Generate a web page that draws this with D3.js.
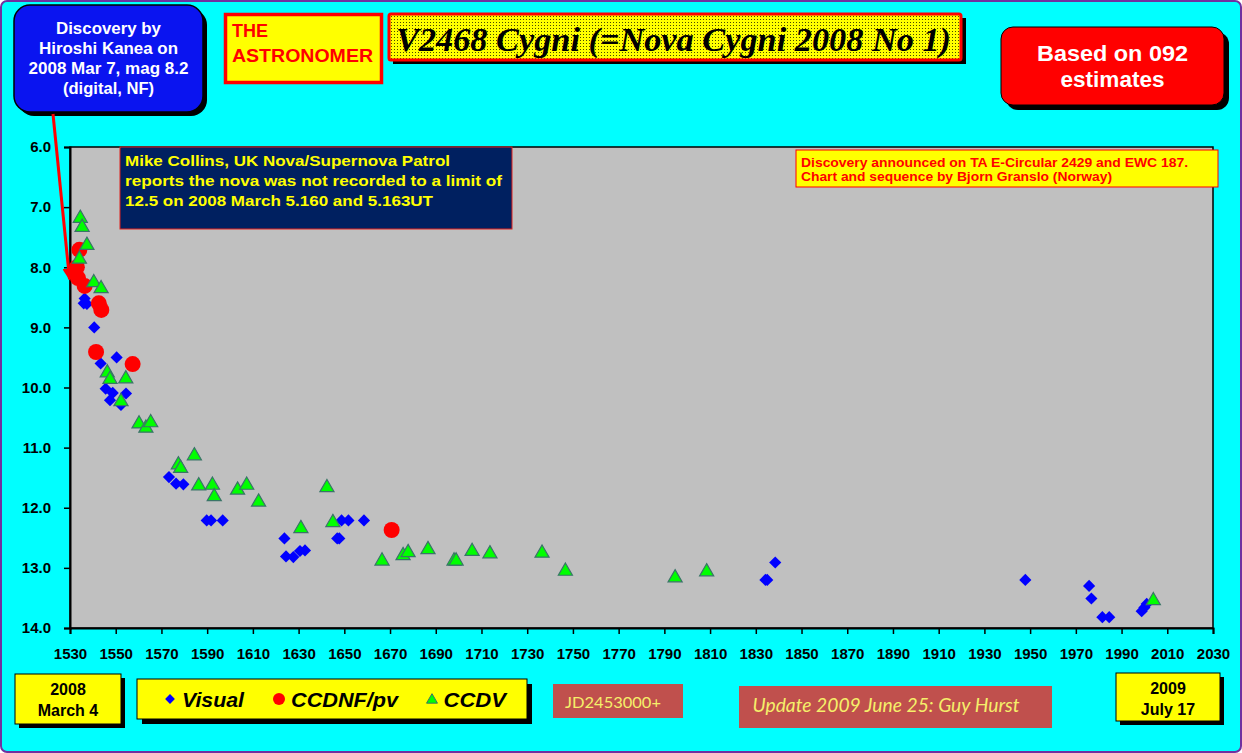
<!DOCTYPE html>
<html>
<head>
<meta charset="utf-8">
<script src="https://cdn.jsdelivr.net/npm/d3@7"></script>
<style>
  html, body { margin: 0; padding: 0; background: #ffffff; overflow: hidden; }
  svg { display: block; }
</style>
</head>
<body>
<svg id="chart" width="1242" height="753"></svg>
<script>
// Light curve of V2468 Cygni: days after JD 2453000 and magnitude, per method
const visualJD  = [1536.4, 1536.0, 1537.4, 1540.6, 1543.4, 1550.4, 1545.6, 1548.7, 1554.5, 1547.5,
                   1552.3, 1573.3, 1576.4, 1579.6, 1589.8, 1591.7, 1596.8, 1623.8, 1624.5, 1627.7,
                   1630.6, 1632.8, 1646.9, 1647.8, 1648.8, 1651.8, 1658.6, 1834.2, 1835.0, 1838.5,
                   1947.9, 1975.8, 1976.8, 1981.6, 1984.6, 1998.8, 2000.0, 2001.0];
const visualMag = [8.52, 8.60, 8.61, 9.00, 9.60, 9.50, 10.02, 10.09, 10.10, 10.21,
                   10.29, 11.49, 11.60, 11.61, 12.21, 12.21, 12.21, 12.51, 12.81, 12.82,
                   12.72, 12.71, 12.51, 12.51, 12.21, 12.21, 12.21, 13.20, 13.20, 12.91,
                   13.20, 13.30, 13.51, 13.82, 13.82, 13.72, 13.66, 13.60];

const ccdnfJD  = [1534.1, 1533.0, 1533.5, 1536.4, 1542.6, 1543.7, 1541.4, 1557.4, 1670.7];
const ccdnfMag = [7.71, 8.00, 8.18, 8.31, 8.60, 8.71, 9.41, 9.61, 12.37];

const ccdvJD  = [1534.5, 1535.3, 1537.4, 1534.1, 1540.4, 1543.6, 1546.3, 1547.5, 1554.4, 1552.3,
                 1560.2, 1563.2, 1565.3, 1577.4, 1578.4, 1584.4, 1586.3, 1592.3, 1593.1, 1603.3,
                 1607.3, 1612.5, 1631.0, 1642.4, 1645.0, 1666.5, 1675.7, 1677.9, 1686.6, 1698.0,
                 1698.9, 1705.9, 1713.7, 1736.5, 1746.7, 1794.7, 1808.5, 2003.9];
const ccdvMag = [7.16, 7.31, 7.61, 7.84, 8.23, 8.33, 9.73, 9.84, 9.83, 10.21,
                 10.58, 10.65, 10.56, 11.26, 11.32, 11.11, 11.61, 11.60, 11.79, 11.68,
                 11.60, 11.88, 12.32, 11.64, 12.22, 12.86, 12.77, 12.72, 12.67, 12.86,
                 12.86, 12.70, 12.74, 12.73, 13.03, 13.14, 13.04, 13.52];

const xTickValues = d3.range(1530, 2031, 20);
const yTickValues = d3.range(6, 14.001, 1);

const legendLabels = ["Visual", "CCDNF/pv", "CCDV"];

const svg = d3.select("#chart");
const W = 1242, H = 753;
const plot = { left: 70, top: 147, right: 1213, bottom: 628 };

const x = d3.scaleLinear().domain([1530, 2030]).range([plot.left, plot.right]);
const y = d3.scaleLinear().domain([6, 14]).range([plot.top, plot.bottom]);

const ARIAL = "'Liberation Sans', Arial, sans-serif";
const TIMES = "'Liberation Serif', 'Times New Roman', serif";
const CAL = "Lato, 'Open Sans', sans-serif";

// stipple pattern for the title plate
const defs = svg.append("defs");
const pat = defs.append("pattern").attr("id", "dots")
  .attr("width", 3).attr("height", 3).attr("patternUnits", "userSpaceOnUse");
pat.append("rect").attr("width", 3).attr("height", 3).attr("fill", "#ffff00");
pat.append("rect").attr("x", 1).attr("y", 1).attr("width", 1).attr("height", 1).attr("fill", "#4a4a00");

defs.append("marker").attr("id", "arrowhead")
  .attr("viewBox", "0 0 10 10").attr("refX", 9).attr("refY", 5)
  .attr("markerWidth", 4).attr("markerHeight", 4).attr("orient", "auto")
  .append("path").attr("d", "M0,0L10,5L0,10Z").attr("fill", "#ff0000");

// page background
svg.append("rect").attr("x", 1).attr("y", 1).attr("width", W - 2).attr("height", H - 2)
  .attr("rx", 6).attr("fill", "#00ffff").attr("stroke", "#7030a0").attr("stroke-width", 2);

// plot area
svg.append("rect").attr("x", plot.left).attr("y", plot.top)
  .attr("width", plot.right - plot.left).attr("height", plot.bottom - plot.top)
  .attr("fill", "#c0c0c0").attr("stroke", "#000").attr("stroke-width", 1.5);

// axes
const xAxis = d3.axisBottom(x).tickValues(xTickValues).tickSize(6).tickPadding(14).tickFormat(d3.format("d"));
const yAxis = d3.axisLeft(y).tickValues(yTickValues).tickSize(6).tickPadding(13).tickFormat(d3.format(".1f"));

const gx = svg.append("g").attr("transform", `translate(0,${plot.bottom})`).call(xAxis);
const gy = svg.append("g").attr("transform", `translate(${plot.left},0)`).call(yAxis);
[gx, gy].forEach(g => {
  g.select(".domain").attr("stroke", "#000").attr("stroke-width", 2);
  g.selectAll(".tick line").attr("stroke", "#000").attr("stroke-width", 1.5);
  g.selectAll(".tick text").attr("fill", "#000").attr("font-family", ARIAL)
    .attr("font-weight", "bold").attr("font-size", 15);
});

// observation markers: Visual, then CCDNF/pv, then CCDV on top
const visual = visualJD.map((d, i) => ({ jd: d, mag: visualMag[i] }));
const ccdnf = ccdnfJD.map((d, i) => ({ jd: d, mag: ccdnfMag[i] }));
const ccdv = ccdvJD.map((d, i) => ({ jd: d, mag: ccdvMag[i] }));

const diamond = d3.symbol().type(d3.symbolSquare).size(74)();
const triangle = d3.symbol().type(d3.symbolTriangle).size(86)();

svg.append("g").selectAll("path").data(visual).join("path")
  .attr("d", diamond)
  .attr("transform", d => `translate(${x(d.jd)},${y(d.mag)}) rotate(45)`)
  .attr("fill", "#0000ff");

svg.append("g").selectAll("circle").data(ccdnf).join("circle")
  .attr("cx", d => x(d.jd)).attr("cy", d => y(d.mag)).attr("r", 8)
  .attr("fill", "#ff0000");

svg.append("g").selectAll("path").data(ccdv).join("path")
  .attr("d", triangle)
  .attr("transform", d => `translate(${x(d.jd)},${y(d.mag) + 1.5})`)
  .attr("fill", "#00ff00").attr("stroke", "#3a7468").attr("stroke-width", 1.2);

// helper: multi-line text block
function lines(g, arr, opts) {
  arr.forEach((t, i) => {
    const el = g.append("text")
      .attr("x", opts.x).attr("y", opts.y + i * opts.dy)
      .attr("text-anchor", opts.anchor || "start")
      .attr("font-family", opts.family || ARIAL)
      .attr("font-weight", opts.weight || "bold")
      .attr("font-style", opts.style || "normal")
      .attr("font-size", opts.size)
      .attr("fill", opts.fill)
      .text(t);
    if (opts.lengths && opts.lengths[i]) {
      el.attr("textLength", opts.lengths[i]).attr("lengthAdjust", "spacingAndGlyphs");
    }
  });
}

// note box inside the plot: pre-discovery limit
const note1 = svg.append("g");
note1.append("rect").attr("x", 120).attr("y", 147).attr("width", 392).attr("height", 82)
  .attr("fill", "#002060").attr("stroke", "#e0201c").attr("stroke-width", 1);
lines(note1, ["Mike Collins, UK Nova/Supernova Patrol",
              "reports the nova was not recorded to a limit of",
              "12.5 on 2008 March 5.160 and 5.163UT"],
  { x: 125, y: 166, dy: 19.8, size: 15, fill: "#ffff00", lengths: [325, 377, 308] });

// note box: announcement and sequence credit
const note2 = svg.append("g");
note2.append("rect").attr("x", 796).attr("y", 150).attr("width", 422).attr("height", 37)
  .attr("fill", "#ffff00").attr("stroke", "#ff0000").attr("stroke-width", 1);
lines(note2, ["Discovery announced on TA E-Circular 2429 and EWC 187.",
              "Chart and sequence by Bjorn Granslo (Norway)"],
  { x: 801, y: 166.5, dy: 14.5, size: 13, fill: "#ff0000", lengths: [387, 311] });

// discovery callout with arrow
const disc = svg.append("g");
disc.append("rect").attr("x", 18).attr("y", 9).attr("width", 189).attr("height", 107)
  .attr("rx", 16).attr("fill", "#000");
disc.append("rect").attr("x", 14).attr("y", 5).attr("width", 189).attr("height", 107)
  .attr("rx", 16).attr("fill", "#0a14f0").attr("stroke", "#000").attr("stroke-width", 1.5);
lines(disc, ["Discovery by", "Hiroshi Kanea on", "2008 Mar 7, mag 8.2", "(digital, NF)"],
  { x: 108.5, y: 34, dy: 20, size: 16, fill: "#ffffff", anchor: "middle",
    lengths: [105, 139, 160, 91] });
svg.append("line").attr("x1", 53).attr("y1", 114).attr("x2", x(1529.8)).attr("y2", y(8.2))
  .attr("stroke", "#ff0000").attr("stroke-width", 3).attr("marker-end", "url(#arrowhead)");

// publication tag
const tag = svg.append("g");
tag.append("rect").attr("x", 225.5).attr("y", 14.5).attr("width", 156).attr("height", 68)
  .attr("fill", "#ffff00").attr("stroke", "#ff0000").attr("stroke-width", 3.5);
lines(tag, ["THE", "ASTRONOMER"],
  { x: 232, y: 37, dy: 25, size: 18, fill: "#ff0000", lengths: [null, 141] });

// title plate
const title = svg.append("g");
title.append("rect").attr("x", 393).attr("y", 18).attr("width", 573).attr("height", 46).attr("fill", "#000");
title.append("rect").attr("x", 389).attr("y", 14).attr("width", 572).attr("height", 46)
  .attr("rx", 2).attr("fill", "url(#dots)").attr("stroke", "#ff0000").attr("stroke-width", 3);
title.append("text").attr("x", 396).attr("y", 51)
  .attr("font-family", TIMES).attr("font-weight", "bold").attr("font-style", "italic")
  .attr("font-size", 34).attr("fill", "#000")
  .attr("textLength", 555).attr("lengthAdjust", "spacingAndGlyphs")
  .text("V2468 Cygni (=Nova Cygni 2008 No 1)");

// estimate count badge
const badge = svg.append("g");
badge.append("rect").attr("x", 1006).attr("y", 32).attr("width", 223).attr("height", 78)
  .attr("rx", 12).attr("fill", "#000");
badge.append("rect").attr("x", 1001).attr("y", 27).attr("width", 223).attr("height", 78)
  .attr("rx", 12).attr("fill", "#ff0000").attr("stroke", "#000").attr("stroke-width", 1);
lines(badge, ["Based on 092", "estimates"],
  { x: 1112.5, y: 61, dy: 26, size: 22, fill: "#ffffff", anchor: "middle", lengths: [151, 104] });

// start / end date boxes
function dateBox(bx, by, bw, bh, txt) {
  const g = svg.append("g");
  g.append("rect").attr("x", bx + 4).attr("y", by + 4).attr("width", bw).attr("height", bh).attr("fill", "#000");
  g.append("rect").attr("x", bx).attr("y", by).attr("width", bw).attr("height", bh)
    .attr("fill", "#ffff00").attr("stroke", "#000").attr("stroke-width", 1);
  lines(g, txt, { x: bx + bw / 2, y: by + 21, dy: 20.5, size: 16, fill: "#000", anchor: "middle" });
}
dateBox(15, 674, 106, 50, ["2008", "March 4"]);
dateBox(1116, 673, 104, 48, ["2009", "July 17"]);

// legend
const leg = svg.append("g");
leg.append("rect").attr("x", 142).attr("y", 684).attr("width", 390).attr("height", 40).attr("fill", "#000");
leg.append("rect").attr("x", 137).attr("y", 679).attr("width", 390).attr("height", 40)
  .attr("fill", "#ffff00").attr("stroke", "#000").attr("stroke-width", 1);
const legY = 699;
leg.append("path").attr("d", d3.symbol().type(d3.symbolSquare).size(48)())
  .attr("transform", `translate(170,${legY}) rotate(45)`).attr("fill", "#0000ff");
leg.append("circle").attr("cx", 279).attr("cy", legY).attr("r", 6).attr("fill", "#ff0000");
leg.append("path").attr("d", d3.symbol().type(d3.symbolTriangle).size(52)())
  .attr("transform", `translate(432,${legY + 1})`)
  .attr("fill", "#00ff00").attr("stroke", "#3a7468").attr("stroke-width", 1);
const legX = [182, 291, 443.5];
const legW = [62, 107, 62.5];
legendLabels.forEach((t, i) => {
  leg.append("text").attr("x", legX[i]).attr("y", 707)
    .attr("font-family", ARIAL).attr("font-weight", "bold").attr("font-style", "italic")
    .attr("font-size", 21).attr("fill", "#000")
    .attr("textLength", legW[i]).attr("lengthAdjust", "spacingAndGlyphs").text(t);
});

// JD offset label and update note
const jd = svg.append("g");
jd.append("rect").attr("x", 553).attr("y", 684).attr("width", 130).attr("height", 34).attr("fill", "#c0504d");
jd.append("text").attr("x", 565).attr("y", 707.5).attr("font-family", CAL).attr("font-size", 16)
  .attr("fill", "#f5ef6a").attr("textLength", 96).attr("lengthAdjust", "spacingAndGlyphs").text("JD2453000+");

const upd = svg.append("g");
upd.append("rect").attr("x", 739).attr("y", 686).attr("width", 313).attr("height", 42).attr("fill", "#c0504d");
upd.append("text").attr("x", 752.5).attr("y", 712).attr("font-family", CAL).attr("font-style", "italic")
  .attr("font-size", 19).attr("fill", "#f5ef6a")
  .attr("textLength", 267).attr("lengthAdjust", "spacingAndGlyphs").text("Update 2009 June 25: Guy Hurst");
</script>
</body>
</html>
